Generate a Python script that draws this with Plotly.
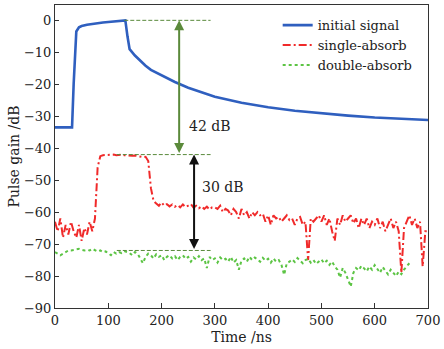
import plotly.graph_objects as go

# ---------------- data ----------------
t_initial = [0, 10, 20, 30, 32, 35, 38, 40, 45, 50, 60, 70, 80, 90, 100, 110, 120, 130, 132,
             136, 140, 150, 160, 170, 180, 200, 225, 250, 275, 300, 350, 400, 450, 500, 550,
             600, 650, 700]
initial_signal = [-33.5, -33.5, -33.6, -33.6, -33.5, -20, -7, -3.5, -2.2, -1.8, -1.4, -1.1, -0.9,
                  -0.7, -0.5, -0.35, -0.2, -0.05, 0,
                  -5, -9, -11, -12.7, -14.2, -15.5, -17.3, -19.3, -21.1, -22.6, -23.9, -25.8,
                  -27.2, -28.3, -29.1, -29.8, -30.4, -30.9, -31.2]

t_absorb = list(range(0, 701, 5))
single_absorb = [
    -63, -66, -62, -68, -64, -67, -63, -66, -68, -64, -69, -65, -67, -63, -66, -62,   # 0-75
    -46, -42.5, -42.2, -42.1, -42.0, -42.1, -42.0, -42.2, -42.1, -42.0, -42.2, -42.3,  # 80-135
    -42.2, -42.4, -42.3, -42.5, -42.6, -42.8, -42.7, -44,                                # 140-175
    -52.5, -56.5, -57.3, -58, -57, -58, -57.5, -58.2, -57.6, -58.3, -57.8, -58.5,        # 180-235
    -57.6, -58.4, -58, -57.5, -58.6, -58, -58.8, -58.2, -59, -58.3, -59.2, -58.5,        # 240-295
    -58.5, -59, -58, -60, -59, -59.5, -61, -59, -60, -62, -59, -61, -60, -62, -60, -61,  # 300-375
    -60, -61, -60.5, -63, -61, -64, -61, -62, -61.5, -63, -62, -61, -62.5, -62, -64, -62,  # 380-455
    -61.5, -64, -63, -75, -62, -63, -62, -61, -63, -61, -64, -62, -66, -69, -62, -64,  # 460-535
    -61, -63, -62, -61, -63.5, -62, -65, -62, -64, -62, -65, -63, -64, -62, -65, -63,  # 540-615
    -66, -64, -62, -65, -63, -66, -79, -65, -63, -61, -64, -62, -65, -63, -77, -66, -66  # 620-700
]
double_absorb = [
    -72.5, -73, -73.5, -73, -72.5, -72, -72, -71.8, -71.5, -71.5, -71.8, -72, -71.8, -72,
    -71.5, -72, -72.3, -72, -72.5, -72.3, -72.8, -73.5, -72.5, -73, -72.5, -72.8, -72.2,
    -72.5, -72.8, -73.5, -72.5, -73, -74.5, -76, -74, -73, -73.5, -74.5, -73.2, -74, -73.5,
    -75, -74, -73.5, -74.5, -73.8, -75, -74, -73.5, -74.6, -74, -75.5, -74.2, -74.8, -73.8,
    -75, -74.5, -77.5, -74, -75, -74.5, -75.8, -74.2, -75, -74.6, -75.5, -74, -75.8, -75,
    -78, -75.2, -74.5, -75.5, -74, -75, -74.2, -74.8, -75.5, -74.3, -75.2, -74.6, -75.8,
    -74.5, -75.5, -75, -76.5, -79.6, -76, -75.5, -74.8, -75.6, -74.4, -75.2, -76, -75,
    -74.6, -75.8, -75, -76.2, -75.4, -74.8, -76, -75.2, -76.5, -75.5, -77, -78, -80.5,
    -77.5, -79, -81.5, -83.3, -79, -77.5, -78.2, -76.8, -77.6, -78.5, -77, -78, -76.6,
    -77.8, -79, -77.2, -78.4, -79.5, -78, -79.2, -80, -78.6, -79.4, -78, -77, -76
]

gap_levels = [0, -42, -72]       # dashed reference levels (dB)
gap_labels = ["42 dB", "30 dB"]

# ---------------- figure ----------------
fig = go.Figure()
fig.add_trace(go.Scatter(x=t_initial, y=initial_signal, mode="lines", name="initial signal",
                         line=dict(color="#2f5fbf", width=2.6)))
fig.add_trace(go.Scatter(x=t_absorb, y=single_absorb, mode="lines", name="single-absorb",
                         line=dict(color="#f02a2a", width=2, dash="8px,3px,2px,3px")))
fig.add_trace(go.Scatter(x=t_absorb, y=double_absorb, mode="lines", name="double-absorb",
                         line=dict(color="#5cc444", width=2, dash="dot")))

dash_col = "#5a8a3c"
fig.add_shape(type="line", x0=130, x1=292, y0=gap_levels[0], y1=gap_levels[0],
              line=dict(color=dash_col, width=1, dash="4px,2px"))
fig.add_shape(type="line", x0=116, x1=292, y0=gap_levels[1], y1=gap_levels[1],
              line=dict(color=dash_col, width=1, dash="4px,2px"))
fig.add_shape(type="line", x0=116, x1=292, y0=gap_levels[2], y1=gap_levels[2],
              line=dict(color=dash_col, width=1, dash="4px,2px"))

fig.add_annotation(x=233, y=gap_levels[0], ax=233, ay=gap_levels[1], xref="x", yref="y",
                   axref="x", ayref="y", text="", showarrow=True, arrowhead=2,
                   arrowside="end+start", arrowsize=1, arrowwidth=2, arrowcolor="#5b8a3b")
fig.add_annotation(x=261, y=gap_levels[1], ax=261, ay=gap_levels[2], xref="x", yref="y",
                   axref="x", ayref="y", text="", showarrow=True, arrowhead=2,
                   arrowside="end+start", arrowsize=1, arrowwidth=2, arrowcolor="#111111")
fig.add_annotation(x=290, y=-32.9, text=gap_labels[0], showarrow=False,
                   font=dict(family="DejaVu Serif", size=14, color="#222"))
fig.add_annotation(x=315, y=-52, text=gap_labels[1], showarrow=False,
                   font=dict(family="DejaVu Serif", size=14, color="#222"))

axis_common = dict(showline=True, linecolor="#333", linewidth=1, mirror=True,
                   ticks="inside", tickcolor="#333", showgrid=False, zeroline=False,
                   tickfont=dict(family="DejaVu Serif", size=13, color="#222"))
fig.update_xaxes(range=[0, 700], dtick=100, ticklen=5,
                 title=dict(text="Time /ns", font=dict(family="DejaVu Serif", size=14, color="#222"),
                            standoff=5), **axis_common)
fig.update_yaxes(range=[-90, 4.8], dtick=10, ticklen=4,
                 title=dict(text="Pulse gain /dB", font=dict(family="DejaVu Serif", size=14, color="#222"),
                            standoff=1), **axis_common)

fig.update_layout(
    width=444, height=349,
    margin=dict(l=55, r=13, t=4, b=41),
    plot_bgcolor="white", paper_bgcolor="white",
    showlegend=True,
    legend=dict(x=0.597, y=0.983, xanchor="left", yanchor="top", bgcolor="rgba(0,0,0,0)",
                font=dict(family="DejaVu Serif", size=13, color="#222"),
                tracegroupgap=0, itemwidth=30),
)

fig.write_html("out.html")
